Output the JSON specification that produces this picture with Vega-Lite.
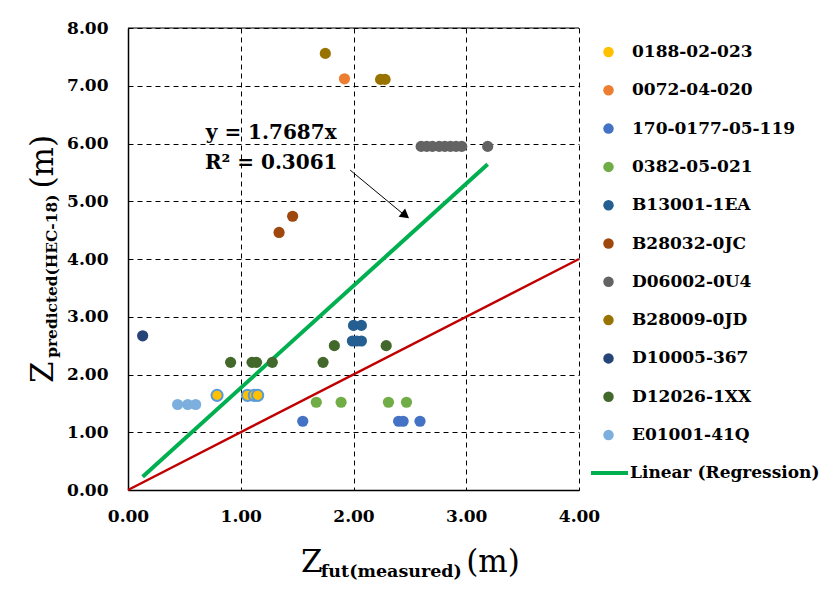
{
  "$schema": "https://vega.github.io/schema/vega-lite/v6.json",
  "width": 451,
  "height": 462,
  "autosize": "none",
  "padding": {"left": 128, "top": 28, "right": 261, "bottom": 104},
  "background": "white",
  "config": {
    "view": {"stroke": null},
    "font": "DejaVu Serif",
    "axis": {
      "labelFont": "DejaVu Serif",
      "labelFontWeight": "bold",
      "labelFontSize": 17,
      "labelColor": "black",
      "labelFlush": false,
      "labelOverlap": false,
      "domainColor": "black",
      "domainWidth": 1.5,
      "ticks": false,
      "grid": true,
      "gridColor": "black",
      "gridDash": [5, 4],
      "gridWidth": 1,
      "gridOpacity": 1,
      "title": null
    },
    "legend": {
      "labelFont": "DejaVu Serif",
      "labelFontWeight": "bold",
      "labelFontSize": 17,
      "labelColor": "black",
      "labelLimit": 0,
      "padding": 0,
      "titlePadding": 0
    }
  },
  "datasets": {
    "pts": [
      {"series": "0188-02-023", "x": 0.79, "y": 1.64},
      {"series": "0188-02-023", "x": 1.06, "y": 1.64},
      {"series": "0188-02-023", "x": 1.12, "y": 1.64},
      {"series": "0188-02-023", "x": 1.15, "y": 1.64},
      {"series": "0072-04-020", "x": 1.92, "y": 7.12},
      {"series": "170-0177-05-119", "x": 1.55, "y": 1.19},
      {"series": "170-0177-05-119", "x": 2.40, "y": 1.19},
      {"series": "170-0177-05-119", "x": 2.44, "y": 1.19},
      {"series": "170-0177-05-119", "x": 2.59, "y": 1.19},
      {"series": "0382-05-021", "x": 1.67, "y": 1.52},
      {"series": "0382-05-021", "x": 1.89, "y": 1.52},
      {"series": "0382-05-021", "x": 2.31, "y": 1.52},
      {"series": "0382-05-021", "x": 2.47, "y": 1.52},
      {"series": "B13001-1EA", "x": 2.00, "y": 2.85},
      {"series": "B13001-1EA", "x": 2.07, "y": 2.85},
      {"series": "B13001-1EA", "x": 1.99, "y": 2.58},
      {"series": "B13001-1EA", "x": 2.03, "y": 2.58},
      {"series": "B13001-1EA", "x": 2.07, "y": 2.58},
      {"series": "B28032-0JC", "x": 1.34, "y": 4.46},
      {"series": "B28032-0JC", "x": 1.46, "y": 4.74},
      {"series": "D06002-0U4", "x": 2.60, "y": 5.95},
      {"series": "D06002-0U4", "x": 2.65, "y": 5.95},
      {"series": "D06002-0U4", "x": 2.70, "y": 5.95},
      {"series": "D06002-0U4", "x": 2.76, "y": 5.95},
      {"series": "D06002-0U4", "x": 2.81, "y": 5.95},
      {"series": "D06002-0U4", "x": 2.86, "y": 5.95},
      {"series": "D06002-0U4", "x": 2.91, "y": 5.95},
      {"series": "D06002-0U4", "x": 2.96, "y": 5.95},
      {"series": "D06002-0U4", "x": 3.19, "y": 5.95},
      {"series": "B28009-0JD", "x": 1.75, "y": 7.56},
      {"series": "B28009-0JD", "x": 2.24, "y": 7.11},
      {"series": "B28009-0JD", "x": 2.28, "y": 7.11},
      {"series": "D10005-367", "x": 0.13, "y": 2.67},
      {"series": "D12026-1XX", "x": 0.91, "y": 2.21},
      {"series": "D12026-1XX", "x": 1.10, "y": 2.21},
      {"series": "D12026-1XX", "x": 1.14, "y": 2.21},
      {"series": "D12026-1XX", "x": 1.28, "y": 2.21},
      {"series": "D12026-1XX", "x": 1.73, "y": 2.21},
      {"series": "D12026-1XX", "x": 1.83, "y": 2.50},
      {"series": "D12026-1XX", "x": 2.29, "y": 2.50},
      {"series": "E01001-41Q", "x": 0.44, "y": 1.48},
      {"series": "E01001-41Q", "x": 0.53, "y": 1.48},
      {"series": "E01001-41Q", "x": 0.60, "y": 1.48}
    ],
    "reg": [
      {"series": "Linear (Regression)", "x": 0.13, "y": 0.23},
      {"series": "Linear (Regression)", "x": 3.19, "y": 5.64}
    ],
    "ref": [
      {"x": 0, "y": 0},
      {"x": 4, "y": 4}
    ]
  },
  "layer": [
    {
      "data": {"name": "ref"},
      "mark": {"type": "line", "color": "#C00000", "strokeWidth": 2.5},
      "encoding": {
        "x": {"field": "x", "type": "quantitative", "scale": {"domain": [0, 4], "nice": false, "zero": false},
              "axis": {"values": [0, 1, 2, 3, 4], "format": ".2f", "labelPadding": 18}},
        "y": {"field": "y", "type": "quantitative", "scale": {"domain": [0, 8], "nice": false, "zero": false},
              "axis": {"values": [0, 1, 2, 3, 4, 5, 6, 7, 8], "format": ".2f", "labelPadding": 20}}
      }
    },
    {
      "data": {"values": [{}]},
      "mark": {"type": "rule", "color": "black", "strokeWidth": 1},
      "encoding": {
        "y": {"datum": 8},
        "x": {"datum": 0},
        "x2": {"datum": 4}
      }
    },
    {
      "data": {"name": "reg"},
      "mark": {"type": "line", "strokeWidth": 4},
      "encoding": {
        "x": {"field": "x", "type": "quantitative"},
        "y": {"field": "y", "type": "quantitative"},
        "stroke": {
          "field": "series", "type": "nominal",
          "scale": {"domain": ["Linear (Regression)"], "range": ["#00B050"]},
          "legend": {
            "title": null, "orient": "none", "legendX": 461, "legendY": 424.5,
            "symbolType": "stroke", "symbolSize": 1369, "symbolStrokeWidth": 4,
            "labelOffset": 0
          }
        }
      }
    },
    {
      "data": {"name": "pts"},
      "mark": {"type": "point", "filled": true, "opacity": 1, "size": 125},
      "encoding": {
        "x": {"field": "x", "type": "quantitative"},
        "y": {"field": "y", "type": "quantitative"},
        "color": {
          "field": "series", "type": "nominal",
          "scale": {
            "domain": ["0188-02-023", "0072-04-020", "170-0177-05-119", "0382-05-021", "B13001-1EA", "B28032-0JC", "D06002-0U4", "B28009-0JD", "D10005-367", "D12026-1XX", "E01001-41Q"],
            "range": ["#FFC000", "#ED7D31", "#4472C4", "#70AD47", "#255E91", "#9E480E", "#636363", "#997300", "#264478", "#43682B", "#7CAFDD"]
          },
          "legend": {
            "title": null, "orient": "none", "legendX": 472, "legendY": 15.5,
            "symbolType": "circle", "symbolSize": 110, "labelOffset": 15, "rowPadding": 20.3,
            "symbolOpacity": 1,
            "encode": {
              "symbols": {
                "update": {
                  "stroke": {"signal": "datum.value === '0188-02-023' ? '#5B9BD5' : 'transparent'"},
                  "strokeWidth": {"value": 2}
                }
              }
            }
          }
        },
        "stroke": {
          "condition": {"test": "datum.series === '0188-02-023'", "value": "#5B9BD5"},
          "value": null
        },
        "strokeWidth": {"value": 2}
      }
    },
    {
      "data": {"values": [{}]},
      "mark": {"type": "rule", "color": "black", "strokeWidth": 1},
      "encoding": {
        "x": {"datum": 1.97}, "y": {"datum": 5.54},
        "x2": {"datum": 2.44}, "y2": {"datum": 4.78}
      }
    },
    {
      "data": {"values": [{}]},
      "mark": {"type": "point", "shape": "triangle", "filled": true, "color": "black", "size": 110, "angle": 128, "opacity": 1},
      "encoding": {
        "x": {"datum": 2.45}, "y": {"datum": 4.77}
      }
    },
    {
      "data": {"values": [{}]},
      "mark": {"type": "text", "font": "DejaVu Serif", "fontWeight": "bold", "fontSize": 20, "align": "center", "baseline": "middle", "color": "black"},
      "encoding": {
        "x": {"datum": 1.27}, "y": {"datum": 6.18},
        "text": {"value": "y = 1.7687x"}
      }
    },
    {
      "data": {"values": [{}]},
      "mark": {"type": "text", "font": "DejaVu Serif", "fontWeight": "bold", "fontSize": 20, "align": "center", "baseline": "middle", "color": "black"},
      "encoding": {
        "x": {"datum": 1.27}, "y": {"datum": 5.66},
        "text": {"value": "R² = 0.3061"}
      }
    },
    {
      "data": {"values": [{}]},
      "mark": {"type": "text", "font": "DejaVu Serif", "fontSize": 31, "align": "left", "baseline": "alphabetic", "color": "black"},
      "encoding": {
        "x": {"datum": 1.535}, "y": {"datum": -1.42},
        "text": {"value": "Z"}
      }
    },
    {
      "data": {"values": [{}]},
      "mark": {"type": "text", "font": "DejaVu Serif", "fontWeight": "bold", "fontSize": 17.5, "align": "left", "baseline": "alphabetic", "color": "black"},
      "encoding": {
        "x": {"datum": 1.71}, "y": {"datum": -1.51},
        "text": {"value": "fut(measured)"}
      }
    },
    {
      "data": {"values": [{}]},
      "mark": {"type": "text", "font": "DejaVu Serif", "fontSize": 31, "align": "left", "baseline": "alphabetic", "color": "black"},
      "encoding": {
        "x": {"datum": 3.0}, "y": {"datum": -1.42},
        "text": {"value": "(m)"}
      }
    },
    {
      "data": {"values": [{}]},
      "mark": {"type": "text", "font": "DejaVu Serif", "fontSize": 31, "align": "left", "baseline": "alphabetic", "angle": 270, "color": "black"},
      "encoding": {
        "x": {"datum": -0.665}, "y": {"datum": 1.853},
        "text": {"value": "Z"}
      }
    },
    {
      "data": {"values": [{}]},
      "mark": {"type": "text", "font": "DejaVu Serif", "fontWeight": "bold", "fontSize": 15.4, "align": "left", "baseline": "alphabetic", "angle": 270, "color": "black"},
      "encoding": {
        "x": {"datum": -0.63}, "y": {"datum": 2.29},
        "text": {"value": "predicted(HEC-18)"}
      }
    },
    {
      "data": {"values": [{}]},
      "mark": {"type": "text", "font": "DejaVu Serif", "fontSize": 31, "align": "left", "baseline": "alphabetic", "angle": 270, "color": "black"},
      "encoding": {
        "x": {"datum": -0.665}, "y": {"datum": 5.22},
        "text": {"value": "(m)"}
      }
    }
  ]
}
